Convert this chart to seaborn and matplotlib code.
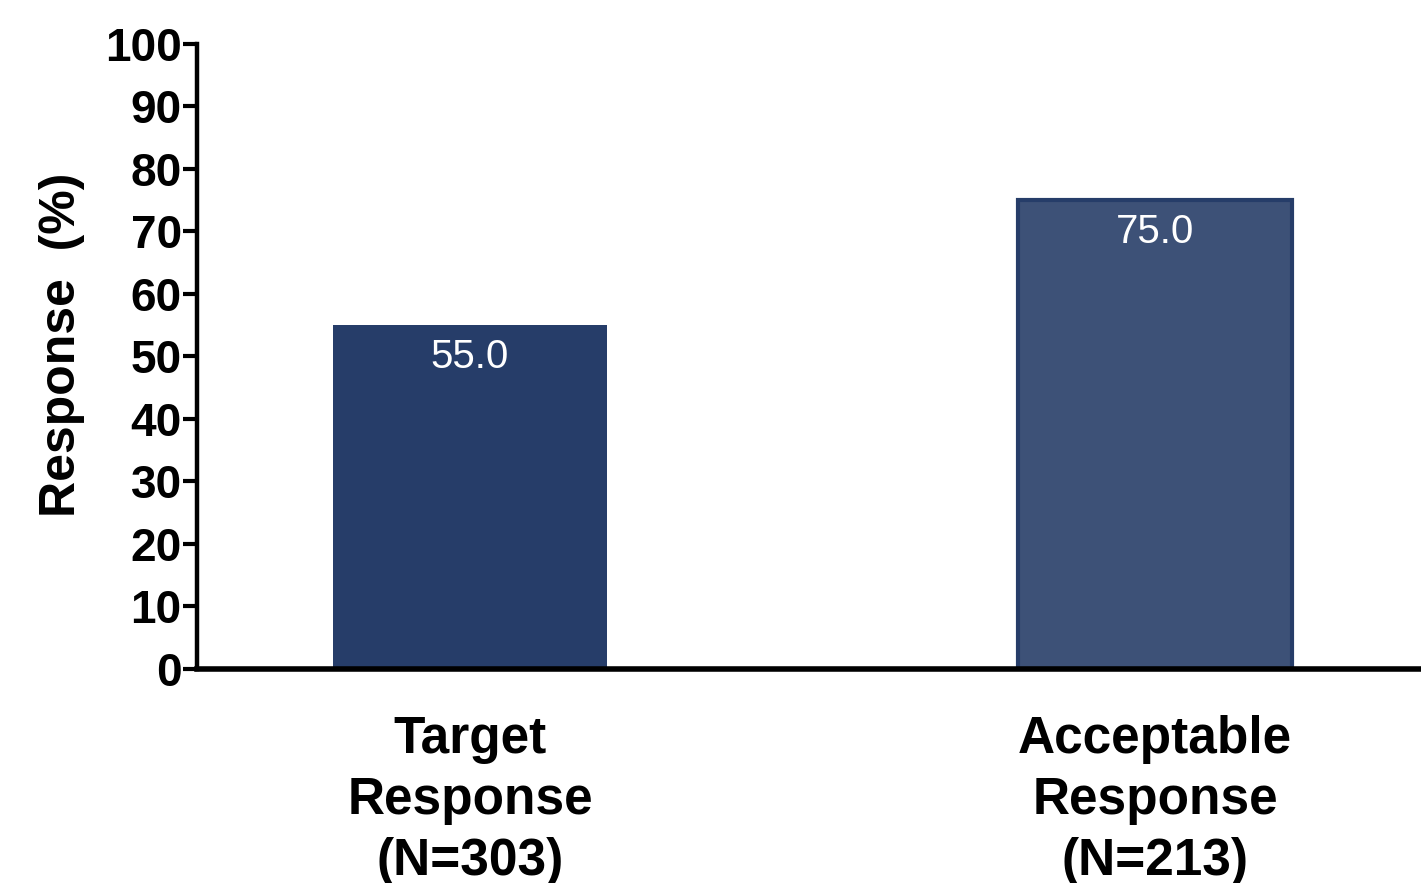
import matplotlib
matplotlib.use("Agg")
import matplotlib.pyplot as plt
import seaborn as sns
import pandas as pd

categories = ["Target\nResponse\n(N=303)", "Acceptable\nResponse\n(N=213)"]
values = [55.0, 75.0]
fill_colors = ["#263d69", "#3d5177"]
edge_colors = ["#263d69", "#263d69"]
y_ticks = list(range(0, 101, 10))

sns.set_style("white")
plt.rcParams["font.family"] = ["Liberation Sans", "DejaVu Sans"]
plt.rcParams["text.color"] = "black"
plt.rcParams["xtick.color"] = "black"
plt.rcParams["ytick.color"] = "black"
plt.rcParams["axes.labelcolor"] = "black"

df = pd.DataFrame({"group": categories, "value": values})

fig = plt.figure(figsize=(14.21, 8.83), dpi=100)
ax = fig.add_axes([0.1386, 0.2424, 0.8614, 0.7078])

sns.barplot(data=df, x="group", y="value", hue="group",
            palette=fill_colors, width=0.4, legend=False, ax=ax, saturation=1)
for patch, ec in zip(ax.patches, edge_colors):
    patch.set_edgecolor(ec)
ax.patches[1].set_linewidth(3)
ax.patches[0].set_linewidth(0)

for patch, v in zip(ax.patches, values):
    ax.text(patch.get_x() + patch.get_width() / 2, v - 2.0, f"{v:.1f}",
            ha="center", va="top", color="white", fontsize=29)

ax.set_ylim(0, 100)
ax.set_xlim(-0.3985, 1.388)
ax.set_yticks(y_ticks)
ax.set_yticklabels([str(t) for t in y_ticks], fontsize=33, fontweight="bold")
ax.tick_params(axis="y", direction="out", length=10, width=3, pad=1, left=True)
ax.tick_params(axis="x", length=0, pad=33)
for lbl in ax.get_xticklabels():
    lbl.set_fontsize(37)
    lbl.set_fontweight("bold")
    lbl.set_linespacing(1.32)

ax.set_xlabel("")
ax.set_ylabel("Response  (%)", fontsize=36, fontweight="bold", labelpad=14)
ax.yaxis.label.set_y(0.518)

for s in ["top", "right"]:
    ax.spines[s].set_visible(False)
ax.spines["left"].set_linewidth(3.2)
ax.spines["bottom"].set_linewidth(4)
ax.spines["left"].set_color("black")
ax.spines["bottom"].set_color("black")

fig.savefig("out.png", dpi=100)
